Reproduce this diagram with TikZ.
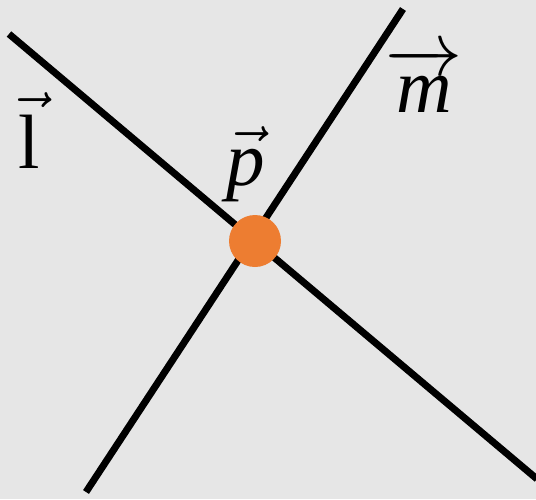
\documentclass[tikz,border=0pt]{standalone}
\usepackage{fix-cm}
\usepackage{amsmath}
\usepackage{fontspec}
\setmainfont{Liberation Serif}
\definecolor{bg}{HTML}{E6E6E6}
\definecolor{dotorange}{HTML}{ED7D31}
\tikzset{
  vline/.style={line width=7pt, black},
  lbl/.style={font=\fontsize{77}{80}\selectfont, anchor=base, inner sep=0pt},
  pdot/.style={circle, fill=dotorange, minimum size=52pt, inner sep=0pt}
}
\begin{document}
\begin{tikzpicture}[x=1pt,y=-1pt]
  \fill[bg] (0,0) rectangle (536,499);
  \useasboundingbox (0,0) rectangle (536,499);
  \coordinate (l1) at (9,34);
  \coordinate (l2) at (537,479);
  \coordinate (m1) at (403,9);
  \coordinate (m2) at (86,492);
  \draw[vline] (l1) -- (l2);
  \draw[vline] (m1) -- (m2);
  \node[pdot] (p0) at (255,241) {};
  \node[lbl] (ll) at (29,168) {$\vec{\text{l}}$};
  \node[lbl] (pl) at (246,185) {$\vec{\textit{p}}$};
  \node[lbl] (ml) at (424,112) {$\overrightarrow{\textit{m}}$};
\end{tikzpicture}
\end{document}
